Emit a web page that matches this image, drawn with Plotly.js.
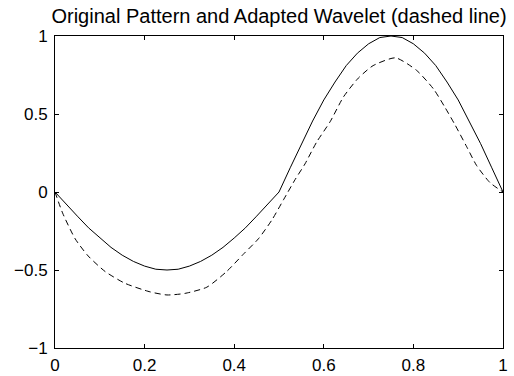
<!DOCTYPE html>
<html>
<head>
<meta charset="utf-8">
<script src="https://cdn.plot.ly/plotly-3.0.1.min.js"></script>
<style>html,body{margin:0;padding:0;background:#fff;}#chart{width:514px;height:376px;}</style>
</head>
<body>
<div id="chart"></div>
<script>
var titleText = "Original Pattern and Adapted Wavelet (dashed line)";

var patternX = [0, 0.025, 0.05, 0.075, 0.1, 0.125, 0.15, 0.175, 0.2, 0.225, 0.25, 0.275, 0.3, 0.325, 0.35, 0.375, 0.4, 0.425, 0.45, 0.475, 0.5,
                0.525, 0.55, 0.575, 0.6, 0.625, 0.65, 0.675, 0.7, 0.725, 0.75, 0.775, 0.8, 0.825, 0.85, 0.875, 0.9, 0.925, 0.95, 0.975, 1];
var patternY = [0, -0.08, -0.155, -0.23, -0.29, -0.355, -0.405, -0.445, -0.475, -0.495, -0.5, -0.495, -0.475, -0.445, -0.405, -0.355, -0.295, -0.23, -0.155, -0.08, 0,
                0.155, 0.31, 0.455, 0.59, 0.705, 0.81, 0.89, 0.95, 0.99, 1.0, 0.99, 0.95, 0.89, 0.81, 0.705, 0.59, 0.455, 0.31, 0.155, 0];

var waveletX = [0, 0.017, 0.045, 0.074, 0.112, 0.156, 0.212, 0.25, 0.29, 0.339, 0.383, 0.42, 0.454, 0.484, 0.51, 0.536, 0.558, 0.584, 0.614, 0.644, 0.677, 0.71, 0.76, 0.807, 0.845, 0.871, 0.893, 0.919, 0.941, 0.971, 1];
var waveletY = [0, -0.135, -0.3, -0.41, -0.51, -0.585, -0.64, -0.66, -0.65, -0.61, -0.51, -0.4, -0.3, -0.18, -0.05, 0.08, 0.18, 0.32, 0.45, 0.61, 0.73, 0.81, 0.86, 0.78, 0.66, 0.54, 0.43, 0.29, 0.17, 0.06, 0];

var xTicks = [0, 0.2, 0.4, 0.6, 0.8, 1];
var xTickText = ["0", "0.2", "0.4", "0.6", "0.8", "1"];
var yTicks = [-1, -0.5, 0, 0.5, 1];
var yTickText = ["\u22121", "\u22120.5", "0", "0.5", "1"];

var font = "Liberation Sans, Arial, Helvetica, sans-serif";

var traces = [
  {x: patternX, y: patternY, type: "scatter", mode: "lines",
   line: {color: "#000", width: 1}, hoverinfo: "none"},
  {x: waveletX, y: waveletY, type: "scatter", mode: "lines",
   line: {color: "#000", width: 1, dash: "6px,4px", shape: "spline", smoothing: 0.6}, hoverinfo: "none"}
];

var axisCommon = {
  showgrid: false, zeroline: false, showline: true, linecolor: "#000", linewidth: 1,
  mirror: "ticks", ticks: "inside", ticklen: 4, tickcolor: "#000", tickwidth: 1,
  tickfont: {family: font, size: 17, color: "#000"}, tickmode: "array"
};

var layout = {
  width: 514, height: 376,
  margin: {l: 55, r: 11, t: 36, b: 28},
  paper_bgcolor: "#fff", plot_bgcolor: "#fff",
  showlegend: false,
  title: {text: titleText, font: {family: font, size: 20, color: "#000"},
          xref: "paper", x: 0.5, xanchor: "center", yref: "container", y: 1 - 16/376, yanchor: "middle"},
  xaxis: Object.assign({}, axisCommon, {range: [0, 1], tickvals: xTicks, ticktext: xTickText, ticklabelstandoff: 2}),
  yaxis: Object.assign({}, axisCommon, {range: [-1, 1], tickvals: yTicks, ticktext: yTickText, ticklabelstandoff: 3})
};

Plotly.newPlot("chart", traces, layout, {staticPlot: true, displayModeBar: false});
</script>
</body>
</html>
